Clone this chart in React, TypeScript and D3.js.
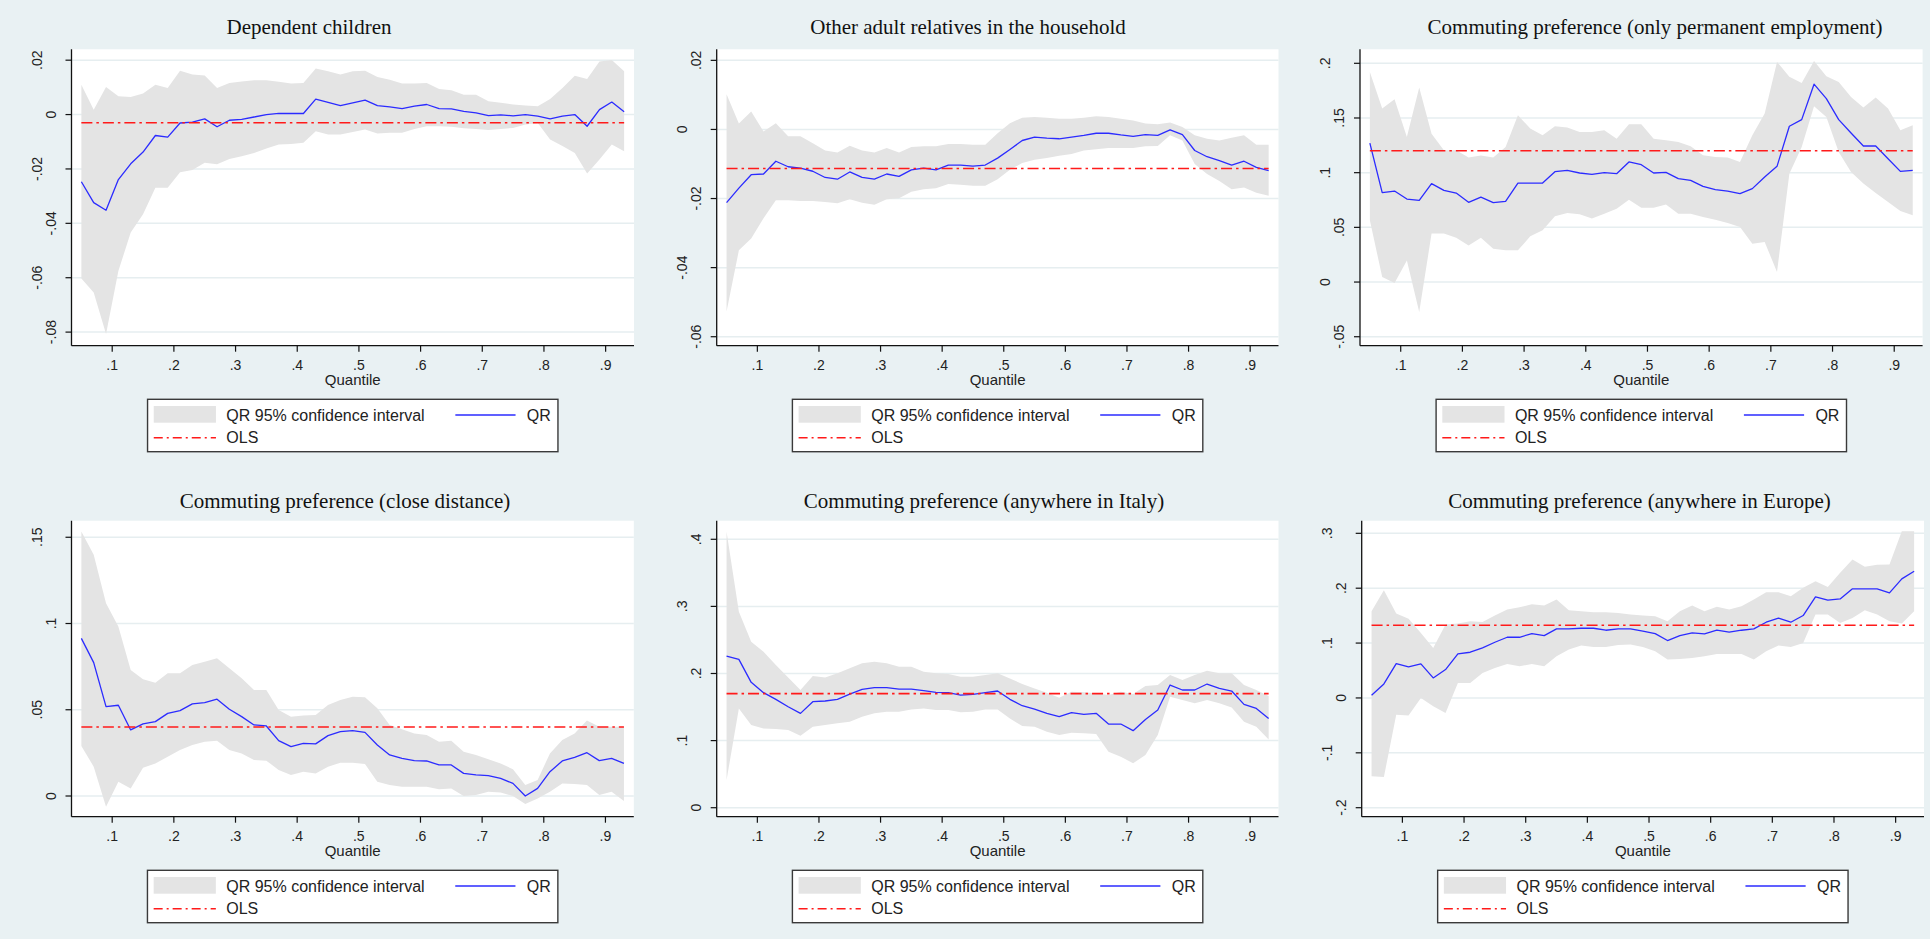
import React, { useEffect } from 'react';
import * as d3 from 'd3';

// quantile grid (x values) shared by every panel
const quantiles = [
  0.05, 0.07, 0.09, 0.11, 0.13, 0.15, 0.17, 0.19, 0.21, 0.23, 0.25, 0.27, 0.29, 0.31, 0.33,
  0.35, 0.37, 0.39, 0.41, 0.43, 0.45, 0.47, 0.49, 0.51, 0.53, 0.55, 0.57, 0.59, 0.61, 0.63,
  0.65, 0.67, 0.69, 0.71, 0.73, 0.75, 0.77, 0.79, 0.81, 0.83, 0.85, 0.87, 0.89, 0.91, 0.93,
];
const xTicks = [0.1, 0.2, 0.3, 0.4, 0.5, 0.6, 0.7, 0.8, 0.9];

// Dependent children
const childQR = [-0.0247, -0.0324, -0.0352, -0.0239, -0.0181, -0.0138, -0.0077, -0.0083, -0.0031, -0.0028, -0.0016, -0.0045, -0.0021, -0.0018, -0.0009, 0, 0.0004, 0.0004, 0.0004, 0.0057, 0.0045, 0.0033, 0.0043, 0.0053, 0.0033, 0.0028, 0.0022, 0.0031, 0.0037, 0.0022, 0.0021, 0.0012, 0.0006, -0.0004, -0.0001, -0.0005, 0, -0.0006, -0.0016, -0.0006, 0, -0.0043, 0.0018, 0.0046, 0.001];
const childUp = [0.011, 0.0018, 0.0101, 0.0067, 0.0065, 0.0077, 0.011, 0.0098, 0.0161, 0.0147, 0.0144, 0.0098, 0.0116, 0.0122, 0.0126, 0.0126, 0.0121, 0.0114, 0.0116, 0.0169, 0.0159, 0.0147, 0.0159, 0.0161, 0.0138, 0.0128, 0.0114, 0.0114, 0.0116, 0.0094, 0.0089, 0.0073, 0.0073, 0.0049, 0.0043, 0.0037, 0.0033, 0.0031, 0.0057, 0.0098, 0.0143, 0.0131, 0.0195, 0.0201, 0.0159];
const childLo = [-0.0603, -0.0654, -0.0807, -0.0575, -0.0434, -0.0367, -0.0269, -0.0269, -0.0212, -0.0204, -0.0177, -0.0183, -0.0163, -0.0153, -0.0141, -0.0125, -0.011, -0.0108, -0.0104, -0.0061, -0.0073, -0.0073, -0.0064, -0.0055, -0.007, -0.0067, -0.0067, -0.0053, -0.0043, -0.0043, -0.0045, -0.005, -0.0053, -0.0057, -0.0053, -0.0049, -0.0037, -0.0031, -0.0092, -0.0116, -0.0141, -0.0217, -0.0165, -0.011, -0.0135];
const childOLS = -0.003;
const childTicks = [0.02, 0, -0.02, -0.04, -0.06, -0.08];

// Other adult relatives in the household
const relQR = [-0.0212, -0.017, -0.0131, -0.0129, -0.0092, -0.0108, -0.0112, -0.0121, -0.0139, -0.0144, -0.0123, -0.0139, -0.0144, -0.0129, -0.0136, -0.0117, -0.0112, -0.0117, -0.0103, -0.0103, -0.0106, -0.0103, -0.0083, -0.0058, -0.0032, -0.0022, -0.0025, -0.0027, -0.0022, -0.0017, -0.0011, -0.0011, -0.0016, -0.002, -0.0015, -0.0017, -0.0001, -0.0015, -0.0061, -0.0079, -0.009, -0.0103, -0.0092, -0.011, -0.0119];
const relUp = [0.0102, 0.0017, 0.0052, -0.0006, 0.0018, -0.002, -0.002, -0.004, -0.0061, -0.0067, -0.0047, -0.0061, -0.0067, -0.0054, -0.0067, -0.0051, -0.0049, -0.0049, -0.0042, -0.0042, -0.0044, -0.0044, -0.0011, 0.0018, 0.0034, 0.0036, 0.0034, 0.0031, 0.0031, 0.0034, 0.0038, 0.0036, 0.0031, 0.0026, 0.0017, 0.0015, 0.002, 0.0007, -0.0017, -0.0027, -0.0032, -0.0024, -0.0017, -0.0044, -0.0044];
const relLo = [-0.0527, -0.035, -0.0316, -0.0257, -0.0205, -0.0205, -0.0207, -0.0207, -0.021, -0.0214, -0.0202, -0.0212, -0.0218, -0.0202, -0.0199, -0.018, -0.0173, -0.017, -0.0158, -0.016, -0.0163, -0.0163, -0.0144, -0.0117, -0.0097, -0.0088, -0.0083, -0.0076, -0.0071, -0.0061, -0.0057, -0.0054, -0.0054, -0.0054, -0.0049, -0.0048, -0.0017, -0.0032, -0.01, -0.0129, -0.0149, -0.0173, -0.0168, -0.0183, -0.0192];
const relOLS = -0.0113;
const relTicks = [0.02, 0, -0.02, -0.04, -0.06];

// Commuting preference (only permanent employment)
const permQR = [0.1271, 0.0817, 0.0832, 0.0759, 0.0747, 0.09, 0.0838, 0.0814, 0.0729, 0.0777, 0.0726, 0.0738, 0.0905, 0.0905, 0.0905, 0.1009, 0.1021, 0.0997, 0.0985, 0.1, 0.0991, 0.1098, 0.1073, 0.0997, 0.1003, 0.0945, 0.093, 0.0875, 0.0845, 0.0832, 0.0808, 0.0854, 0.096, 0.1058, 0.1424, 0.1485, 0.1809, 0.1677, 0.1485, 0.1363, 0.1244, 0.1244, 0.1128, 0.1012, 0.1021];
const permUp = [0.192, 0.1586, 0.1671, 0.1327, 0.1778, 0.1357, 0.1205, 0.1205, 0.1138, 0.1156, 0.1138, 0.1235, 0.1525, 0.1403, 0.1342, 0.1424, 0.1412, 0.1372, 0.1372, 0.1388, 0.1311, 0.1443, 0.1443, 0.1311, 0.1296, 0.1281, 0.1241, 0.1159, 0.1144, 0.1138, 0.1098, 0.1342, 0.154, 0.2013, 0.1876, 0.1821, 0.2022, 0.1882, 0.183, 0.1693, 0.1595, 0.1687, 0.1586, 0.1388, 0.1433];
const permLo = [0.0564, 0.0046, -0.0009, 0.0198, -0.0275, 0.0443, 0.0443, 0.0406, 0.0335, 0.0406, 0.0305, 0.029, 0.029, 0.0418, 0.0473, 0.0601, 0.0631, 0.0619, 0.058, 0.0625, 0.0671, 0.0753, 0.068, 0.068, 0.071, 0.0625, 0.0625, 0.0595, 0.057, 0.054, 0.0503, 0.0351, 0.0366, 0.0092, 0.0991, 0.1235, 0.1607, 0.151, 0.119, 0.1006, 0.09, 0.0814, 0.0732, 0.065, 0.061];
const permOLS = 0.12;
const permTicks = [0.2, 0.15, 0.1, 0.05, 0, -0.05];

// Commuting preference (close distance)
const closeQR = [0.0914, 0.0773, 0.0518, 0.0526, 0.0383, 0.0418, 0.0431, 0.0479, 0.0495, 0.0534, 0.0541, 0.0561, 0.0503, 0.046, 0.0412, 0.0406, 0.0321, 0.0286, 0.0305, 0.0302, 0.035, 0.0373, 0.0379, 0.0369, 0.0296, 0.0238, 0.0218, 0.0205, 0.0203, 0.018, 0.018, 0.0131, 0.0122, 0.0118, 0.0102, 0.0073, 0, 0.0044, 0.0141, 0.0203, 0.0224, 0.0251, 0.0205, 0.0218, 0.0189];
const closeUp = [0.1533, 0.1398, 0.1117, 0.0982, 0.0731, 0.0677, 0.0657, 0.0711, 0.0711, 0.076, 0.0779, 0.0798, 0.074, 0.0682, 0.0615, 0.0615, 0.0499, 0.046, 0.0466, 0.047, 0.0528, 0.0557, 0.0576, 0.0572, 0.0508, 0.0412, 0.0387, 0.0363, 0.0354, 0.0315, 0.0321, 0.0257, 0.0238, 0.0213, 0.0189, 0.0155, 0.0064, 0.0093, 0.0247, 0.0325, 0.0363, 0.0437, 0.0402, 0.0402, 0.0402];
const closeLo = [0.029, 0.017, -0.0062, 0.0083, 0.0044, 0.0164, 0.0189, 0.0228, 0.0267, 0.0296, 0.0315, 0.0321, 0.0267, 0.0247, 0.0209, 0.0205, 0.0151, 0.0122, 0.0141, 0.0131, 0.017, 0.0193, 0.0193, 0.0186, 0.0083, 0.0064, 0.0054, 0.0054, 0.0054, 0.0039, 0.0044, 0, 0.0006, 0.0025, 0.0021, 0, -0.0046, -0.0014, 0.0025, 0.0073, 0.007, 0.0064, 0.0006, 0.0025, -0.0029];
const closeOLS = 0.04;
const closeTicks = [0.15, 0.1, 0.05, 0];

// Commuting preference (anywhere in Italy)
const italyQR = [0.226, 0.2211, 0.1868, 0.1714, 0.1615, 0.1505, 0.1406, 0.158, 0.159, 0.1615, 0.1694, 0.1764, 0.1788, 0.1788, 0.1768, 0.1768, 0.1744, 0.1719, 0.1714, 0.1679, 0.1689, 0.1714, 0.1739, 0.1615, 0.152, 0.147, 0.1406, 0.1356, 0.1416, 0.1391, 0.1406, 0.1247, 0.1247, 0.1148, 0.1316, 0.1456, 0.1828, 0.1754, 0.1754, 0.1843, 0.1778, 0.1739, 0.154, 0.148, 0.1331];
const italyUp = [0.4113, 0.2921, 0.2474, 0.2325, 0.2126, 0.1942, 0.1754, 0.1962, 0.1942, 0.2002, 0.2077, 0.2151, 0.2176, 0.2151, 0.2101, 0.2101, 0.2027, 0.2002, 0.1992, 0.1952, 0.1952, 0.1977, 0.2002, 0.1927, 0.1843, 0.1778, 0.1714, 0.1639, 0.1729, 0.1719, 0.1704, 0.1679, 0.1729, 0.1694, 0.1813, 0.1828, 0.1977, 0.1903, 0.1977, 0.2042, 0.2002, 0.2002, 0.1828, 0.1754, 0.1664];
const italyLo = [0.0412, 0.148, 0.1232, 0.1182, 0.1172, 0.1157, 0.1073, 0.1207, 0.1232, 0.1257, 0.1282, 0.1356, 0.1406, 0.1431, 0.1431, 0.1465, 0.148, 0.1456, 0.1456, 0.1421, 0.1431, 0.1465, 0.1465, 0.1331, 0.1217, 0.1207, 0.1133, 0.1083, 0.1118, 0.1108, 0.1098, 0.0835, 0.076, 0.0661, 0.0785, 0.1083, 0.1654, 0.1605, 0.1555, 0.1605, 0.1555, 0.1495, 0.1282, 0.1207, 0.1018];
const italyOLS = 0.17;
const italyTicks = [0.4, 0.3, 0.2, 0.1, 0];

// Commuting preference (anywhere in Europe)
const euroQR = [0.0049, 0.0255, 0.0626, 0.0565, 0.062, 0.0365, 0.0517, 0.0802, 0.0833, 0.0912, 0.1015, 0.1106, 0.1106, 0.1173, 0.1137, 0.1258, 0.1258, 0.127, 0.127, 0.1234, 0.1258, 0.1258, 0.1216, 0.1173, 0.1046, 0.1137, 0.1185, 0.1167, 0.1234, 0.1198, 0.1234, 0.1258, 0.138, 0.1453, 0.138, 0.1502, 0.1842, 0.1781, 0.1805, 0.1988, 0.1988, 0.1988, 0.1915, 0.217, 0.231];
const euroUp = [0.158, 0.1964, 0.1538, 0.1441, 0.1185, 0.0912, 0.1337, 0.1356, 0.1398, 0.1386, 0.1502, 0.1611, 0.1653, 0.1708, 0.1684, 0.1793, 0.1599, 0.158, 0.1562, 0.1562, 0.155, 0.152, 0.1502, 0.1489, 0.1398, 0.158, 0.1684, 0.158, 0.166, 0.1611, 0.1672, 0.1793, 0.1927, 0.1927, 0.1854, 0.2006, 0.2128, 0.2024, 0.228, 0.2523, 0.2389, 0.2426, 0.2432, 0.304, 0.304];
const euroLo = [-0.1429, -0.1441, -0.0304, -0.0322, 0, -0.0152, -0.0274, 0.0274, 0.0274, 0.0456, 0.0547, 0.062, 0.0578, 0.062, 0.0578, 0.076, 0.0881, 0.0954, 0.093, 0.093, 0.0967, 0.0973, 0.093, 0.0851, 0.0699, 0.0711, 0.073, 0.076, 0.0802, 0.0802, 0.0802, 0.0699, 0.0851, 0.0954, 0.093, 0.1003, 0.152, 0.152, 0.1368, 0.1459, 0.1599, 0.152, 0.1398, 0.1356, 0.158];
const euroOLS = 0.1325;
const euroTicks = [0.3, 0.2, 0.1, 0, -0.1, -0.2];

const W = 1930;
const H = 939;
const BG = '#e9f1f3';
const BAND = '#e4e4e4';
const BLUE = '#2b2bff';
const RED = '#ff1a1a';
const GRID = '#e6eef0';
const SANS = '"Liberation Sans", Arial, sans-serif';
const SERIF = '"Liberation Serif", "Times New Roman", serif';
const OLS_DASH = '11 4 2.5 4';

const panels = [
  { title: 'Dependent children', titleX: 309, titleY: 34, left: 71.5, right: 634, top: 49.3, bottom: 345.7,
    yDomain: [-0.085, 0.024], ticks: childTicks, qr: childQR, up: childUp, lo: childLo, ols: childOLS },
  { title: 'Other adult relatives in the household', titleX: 968, titleY: 34, left: 716.7, right: 1278.5, top: 49.3, bottom: 345.7,
    yDomain: [-0.0626, 0.0232], ticks: relTicks, qr: relQR, up: relUp, lo: relLo, ols: relOLS },
  { title: 'Commuting preference (only permanent employment)', titleX: 1655, titleY: 34, left: 1360, right: 1922.6, top: 49.3, bottom: 345.7,
    yDomain: [-0.0582, 0.2128], ticks: permTicks, qr: permQR, up: permUp, lo: permLo, ols: permOLS },
  { title: 'Commuting preference (close distance)', titleX: 345, titleY: 508, left: 71.5, right: 633.8, top: 520.7, bottom: 816.7,
    yDomain: [-0.012, 0.1596], ticks: closeTicks, qr: closeQR, up: closeUp, lo: closeLo, ols: closeOLS },
  { title: 'Commuting preference (anywhere in Italy)', titleX: 984, titleY: 508, left: 716.7, right: 1278.5, top: 520.7, bottom: 816.7,
    yDomain: [-0.0134, 0.4277], ticks: italyTicks, qr: italyQR, up: italyUp, lo: italyLo, ols: italyOLS },
  { title: 'Commuting preference (anywhere in Europe)', titleX: 1639.5, titleY: 508, left: 1361.7, right: 1924, top: 520.7, bottom: 816.7,
    yDomain: [-0.2164, 0.323], ticks: euroTicks, qr: euroQR, up: euroUp, lo: euroLo, ols: euroOLS },
];

// stata style labels: .02, -.04, 0
const fmt = (v: number) => (v === 0 ? '0' : String(+v.toFixed(3)).replace('0.', '.'));

function Panel({ p }: { p: any }) {
  const x = d3.scaleLinear().domain([0.034, 0.946]).range([p.left, p.right]);
  const y = d3.scaleLinear().domain(p.yDomain).range([p.bottom, p.top]);
  const rows = quantiles.map((q, i) => ({ q, lo: p.lo[i], up: p.up[i], qr: p.qr[i] }));

  const band = d3.area<any>().x(d => x(d.q)).y0(d => y(d.lo)).y1(d => y(d.up))(rows);
  const qrLine = d3.line<any>().x(d => x(d.q)).y(d => y(d.qr))(rows);
  const olsLine = d3.line<any>().x(d => x(d.q)).y(() => y(p.ols))(rows);

  const cx = (p.left + p.right) / 2;
  const lgX = cx - 205.2;
  const lgY = p.bottom + 53.6;
  const nTicks = p.ticks.length;

  return (
    <g>
      <text x={p.titleX} y={p.titleY} textAnchor="middle" fontFamily={SERIF} fontSize={21} fill="#111">
        {p.title}
      </text>
      <rect x={p.left} y={p.top} width={p.right - p.left} height={p.bottom - p.top} fill="#fff" />
      {p.ticks.map((t: number) => (
        <line key={'g' + t} x1={p.left} x2={p.right} y1={y(t)} y2={y(t)} stroke={GRID} strokeWidth={1.5} />
      ))}
      <path d={band || ''} fill={BAND} />
      <path d={qrLine || ''} fill="none" stroke={BLUE} strokeWidth={1.3} strokeLinejoin="round" />
      <path d={olsLine || ''} fill="none" stroke={RED} strokeWidth={1.6} strokeDasharray={OLS_DASH} />

      {/* axes */}
      <line x1={p.left} x2={p.left} y1={p.top} y2={p.bottom} stroke="#111" strokeWidth={1.3} />
      <line x1={p.left} x2={p.right} y1={p.bottom} y2={p.bottom} stroke="#111" strokeWidth={1.3} />
      {p.ticks.map((t: number, i: number) => {
        // labels alternate in two columns, counted from the bottom one
        const fromBottom = nTicks - 1 - i;
        const bx = p.left - (fromBottom % 2 === 0 ? 15.6 : 29.6);
        return (
          <g key={'y' + t}>
            <line x1={p.left - 6} x2={p.left} y1={y(t)} y2={y(t)} stroke="#111" strokeWidth={1.2} />
            <text transform={`translate(${bx},${y(t)}) rotate(-90)`} textAnchor="middle" fontFamily={SANS} fontSize={14} fill="#222">
              {fmt(t)}
            </text>
          </g>
        );
      })}
      {xTicks.map(t => (
        <g key={'x' + t}>
          <line x1={x(t)} x2={x(t)} y1={p.bottom} y2={p.bottom + 6} stroke="#111" strokeWidth={1.2} />
          <text x={x(t)} y={p.bottom + 24.3} textAnchor="middle" fontFamily={SANS} fontSize={14} fill="#222">
            {fmt(t)}
          </text>
        </g>
      ))}
      <text x={cx} y={p.bottom + 39.5} textAnchor="middle" fontFamily={SANS} fontSize={15} fill="#222">
        Quantile
      </text>

      {/* legend */}
      <rect x={lgX} y={lgY} width={410.4} height={52.4} fill="#fff" stroke="#3a3a3a" strokeWidth={1.4} />
      <rect x={lgX + 6.2} y={lgY + 6.7} width={62.2} height={16.7} fill={BAND} />
      <text x={lgX + 78.8} y={lgY + 21.4} fontFamily={SANS} fontSize={16} fill="#222">
        QR 95% confidence interval
      </text>
      <line x1={lgX + 307.8} x2={lgX + 368} y1={lgY + 15.7} y2={lgY + 15.7} stroke={BLUE} strokeWidth={1.6} />
      <text x={lgX + 379.3} y={lgY + 21.4} fontFamily={SANS} fontSize={16} fill="#222">
        QR
      </text>
      <line x1={lgX + 6.2} x2={lgX + 68.4} y1={lgY + 38.4} y2={lgY + 38.4} stroke={RED} strokeWidth={1.4} strokeDasharray="9 4 2 4" />
      <text x={lgX + 78.8} y={lgY + 44} fontFamily={SANS} fontSize={16} fill="#222">
        OLS
      </text>
    </g>
  );
}

export default function App() {
  useEffect(() => {
    document.body.style.margin = '0';
  }, []);
  return (
    <svg width={W} height={H} style={{ position: 'absolute', left: 0, top: 0, display: 'block' }}>
      <rect x={0} y={0} width={W} height={H} fill={BG} />
      {panels.map(p => (
        <Panel key={p.title} p={p} />
      ))}
    </svg>
  );
}
